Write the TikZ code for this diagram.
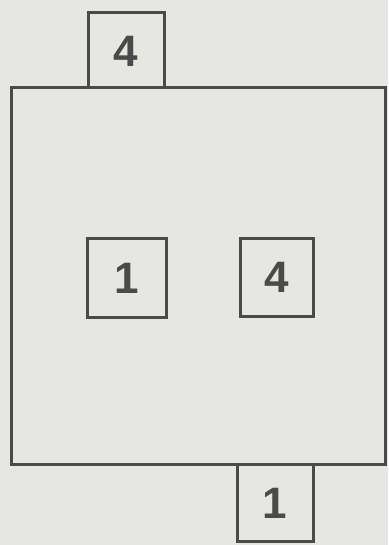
\documentclass[tikz,border=0pt]{standalone}
\usepackage{fontspec}
\setmainfont{Liberation Sans}
\definecolor{paper}{HTML}{E6E6E2}
\definecolor{ink}{HTML}{4A4A4A}
\begin{document}
\begin{tikzpicture}[x=1pt,y=-1pt,
  box/.style={draw=ink,line width=3pt},
  digit/.style={text=ink,font=\fontsize{44}{44}\selectfont\bfseries,inner sep=0pt}]
\useasboundingbox (0,0) rectangle (388,545);
\fill[paper] (0,0) rectangle (388,545);
\draw[box] (11,88) rectangle (385,464);
\draw[box] (88,88) -- (88,13) -- (164,13) -- (164,88);
\node[digit] (t4) at (126,51) {4};
\draw[box] (87,238) rectangle (166,317);
\node[digit] (i1) at (126.5,278) {1};
\draw[box] (240,238) rectangle (313,316);
\node[digit] (i4) at (276.5,277) {4};
\draw[box] (237,464) -- (237,541) -- (313,541) -- (313,464);
\node[digit] (b1) at (275,503) {1};
\end{tikzpicture}
\end{document}
